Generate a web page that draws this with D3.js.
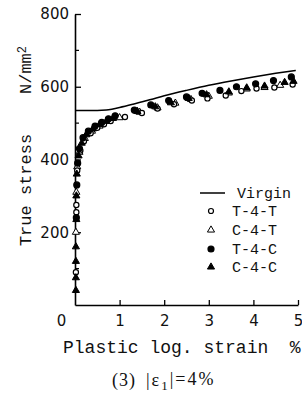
<!DOCTYPE html>
<html>
<head>
<meta charset="utf-8">
<script src="https://cdn.jsdelivr.net/npm/d3@7"></script>
<style>
  body { margin: 0; background: #fff; }
  svg { display: block; }
  text { white-space: pre; }
</style>
</head>
<body>
<div id="chart"></div>
<script>
const width = 302;
const height = 397;

// Virgin curve
const virginStrain = [0, 0.5, 0.7, 0.85, 1.0, 1.3, 1.7, 2.0, 2.5, 3.0, 3.5, 4.0, 4.5, 4.95];
const virginStress = [535, 535, 536, 539, 543, 552, 565, 575, 590, 604, 616, 627, 637, 645];

// T-4-T (open circle)
const t4tStrain = [0.02, 0.03, 0.03, 0.05, 0.12, 0.2, 0.35, 0.5, 0.65, 0.8, 1.12, 1.5, 1.85, 2.22, 2.62, 2.97, 3.38, 3.73, 4.07, 4.47, 4.88];
const t4tStress = [90, 255, 275, 370, 425, 450, 472, 487, 497, 506, 517, 528, 540, 552, 562, 568, 576, 588, 595, 598, 606];

// C-4-T (open triangle)
const c4tStrain = [0.02, 0.03, 0.05, 0.1, 0.22, 0.38, 0.55, 0.75, 1.0, 1.45, 1.85, 2.25, 2.6, 3.0, 3.45, 3.85, 4.25, 4.6];
const c4tStress = [200, 310, 380, 420, 458, 478, 492, 505, 515, 530, 542, 555, 565, 574, 583, 594, 598, 604];

// T-4-C (filled circle)
const t4cStrain = [0.03, 0.04, 0.06, 0.1, 0.18, 0.3, 0.45, 0.6, 0.75, 0.9, 1.33, 1.7, 2.1, 2.5, 2.85, 3.25, 3.62, 4.05, 4.45, 4.85];
const t4cStress = [240, 330, 390, 430, 460, 478, 492, 502, 512, 520, 536, 550, 562, 572, 582, 590, 600, 608, 617, 627];

// C-4-C (filled triangle)
const c4cStrain = [0.02, 0.02, 0.02, 0.02, 0.03, 0.03, 0.04, 0.08, 0.15, 0.25, 0.4, 0.55, 0.7, 0.85, 1.4, 1.8, 2.15, 2.55, 2.95, 3.45, 3.85, 4.25, 4.7, 4.9];
const c4cStress = [40, 75, 120, 160, 235, 300, 360, 410, 445, 468, 484, 496, 505, 513, 532, 545, 556, 568, 578, 586, 597, 602, 612, 615];

const xTicks = [0, 1, 2, 3, 4, 5];
const yTicks = [200, 400, 600, 800];
const yMinor = [100, 300, 500, 700];

const svg = d3.select("#chart")
    .append("svg")
    .attr("width", width)
    .attr("height", height)
    .attr("viewBox", [0, 0, width, height]);

svg.append("rect").attr("width", width).attr("height", height).attr("fill", "#fff");

const x = d3.scaleLinear().domain([0, 5]).range([75, 298]);
const y = d3.scaleLinear().domain([0, 800]).range([305, 14]);

// axes
const xAxis = svg.append("g")
    .attr("transform", `translate(0,${y(0)})`)
    .call(d3.axisBottom(x).tickValues(xTicks).tickFormat(d3.format("d"))
        .tickSize(-5).tickPadding(10).tickSizeOuter(0));
xAxis.select(".domain").attr("stroke-width", 1.6);
xAxis.selectAll(".tick line").attr("stroke-width", 1.3).filter(d => d === 0).remove();
xAxis.selectAll(".tick text")
    .attr("font-family", "'DejaVu Sans', sans-serif")
    .attr("font-size", 15)
    .attr("fill", "#111")
    .attr("dx", d => d === 0 ? -14 : 0);

const yAxis = svg.append("g")
    .attr("transform", `translate(${x(0)},0)`)
    .call(d3.axisLeft(y).tickValues(yTicks).tickFormat(d3.format("d"))
        .tickSize(-6).tickPadding(6).tickSizeOuter(0));
yAxis.select(".domain").attr("stroke-width", 1.6);
yAxis.selectAll(".tick line").attr("stroke-width", 1.3);
yAxis.selectAll(".tick text")
    .attr("font-family", "'DejaVu Sans', sans-serif")
    .attr("font-size", 15)
    .attr("fill", "#111");

yAxis.selectAll(".minor")
    .data(yMinor)
    .join("line")
    .attr("class", "minor")
    .attr("x1", 0).attr("x2", 4)
    .attr("y1", d => y(d)).attr("y2", d => y(d))
    .attr("stroke", "#000").attr("stroke-width", 1.2);

// virgin curve
const line = d3.line()
    .x(d => x(d[0]))
    .y(d => y(d[1]))
    .curve(d3.curveMonotoneX);

svg.append("path")
    .datum(d3.zip(virginStrain, virginStress))
    .attr("fill", "none")
    .attr("stroke", "#000")
    .attr("stroke-width", 1.5)
    .attr("d", line);

const triangle = d3.symbol().type(d3.symbolTriangle).size(22);

function circles(strain, stress, filled) {
    svg.append("g")
        .selectAll("circle")
        .data(d3.zip(strain, stress))
        .join("circle")
        .attr("cx", d => x(d[0]))
        .attr("cy", d => y(d[1]))
        .attr("r", filled ? 3 : 2.6)
        .attr("fill", filled ? "#000" : "#fff")
        .attr("stroke", "#000")
        .attr("stroke-width", 1.2);
}

function triangles(strain, stress, filled) {
    svg.append("g")
        .selectAll("path")
        .data(d3.zip(strain, stress))
        .join("path")
        .attr("transform", d => `translate(${x(d[0])},${y(d[1])})`)
        .attr("d", triangle)
        .attr("fill", filled ? "#000" : "#fff")
        .attr("stroke", "#000")
        .attr("stroke-width", 1);
}

triangles(c4tStrain, c4tStress, false);
circles(t4tStrain, t4tStress, false);
triangles(c4cStrain, c4cStress, true);
circles(t4cStrain, t4cStress, true);

// legend
const legend = svg.append("g")
    .attr("font-family", "'Liberation Mono', monospace")
    .attr("font-size", 15)
    .attr("fill", "#111");

legend.append("line")
    .attr("x1", 200).attr("x2", 225)
    .attr("y1", 193).attr("y2", 193)
    .attr("stroke", "#000").attr("stroke-width", 1.5);
legend.append("text").attr("x", 237).attr("y", 193).attr("dy", "0.35em").text("Virgin");

const legendItems = [
    { label: "T-4-T", shape: "circle", filled: false, y: 211 },
    { label: "C-4-T", shape: "triangle", filled: false, y: 230 },
    { label: "T-4-C", shape: "circle", filled: true, y: 249 },
    { label: "C-4-C", shape: "triangle", filled: true, y: 267 }
];

legendItems.forEach(d => {
    if (d.shape === "circle") {
        legend.append("circle")
            .attr("cx", 211).attr("cy", d.y)
            .attr("r", d.filled ? 3 : 2.5)
            .attr("fill", d.filled ? "#000" : "#fff")
            .attr("stroke", "#000").attr("stroke-width", 1.2);
    } else {
        legend.append("path")
            .attr("transform", `translate(211,${d.y})`)
            .attr("d", triangle)
            .attr("fill", d.filled ? "#000" : "#fff")
            .attr("stroke", "#000").attr("stroke-width", 1);
    }
    legend.append("text").attr("x", 232).attr("y", d.y).attr("dy", "0.35em").text(d.label);
});

// axis titles
svg.append("text")
    .attr("x", 63).attr("y", 347)
    .attr("dy", "0.35em")
    .attr("font-family", "'Liberation Mono', monospace")
    .attr("font-size", 18)
    .attr("fill", "#111")
    .text("Plastic log. strain  %");

svg.append("text")
    .attr("transform", "translate(25,190) rotate(-90)")
    .attr("text-anchor", "middle")
    .attr("dy", "0.35em")
    .attr("font-family", "'Liberation Mono', monospace")
    .attr("font-size", 17)
    .attr("fill", "#111")
    .text("True stress");

const unit = svg.append("text")
    .attr("transform", "translate(25,70) rotate(-90)")
    .attr("text-anchor", "middle")
    .attr("dy", "0.35em")
    .attr("font-family", "'Liberation Mono', monospace")
    .attr("font-size", 17)
    .attr("fill", "#111");
unit.append("tspan").text("N/mm");
unit.append("tspan").attr("dy", "-0.45em").attr("font-size", 12).text("2");

// caption
svg.append("text")
    .attr("x", 112).attr("y", 380)
    .attr("dy", "0.35em")
    .attr("font-family", "'Liberation Serif', serif")
    .attr("font-size", 18)
    .attr("letter-spacing", 1)
    .attr("fill", "#111")
    .text("(3)");

const cap = svg.append("text")
    .attr("x", 146).attr("y", 380)
    .attr("dy", "0.35em")
    .attr("font-family", "'Liberation Serif', serif")
    .attr("font-size", 18)
    .attr("letter-spacing", 2)
    .attr("fill", "#111");
cap.append("tspan").text("|ε");
cap.append("tspan").attr("dy", "0.3em").attr("font-size", 13).text("1");
cap.append("tspan").attr("dy", "-0.3em").text("|=4%");
</script>
</body>
</html>
